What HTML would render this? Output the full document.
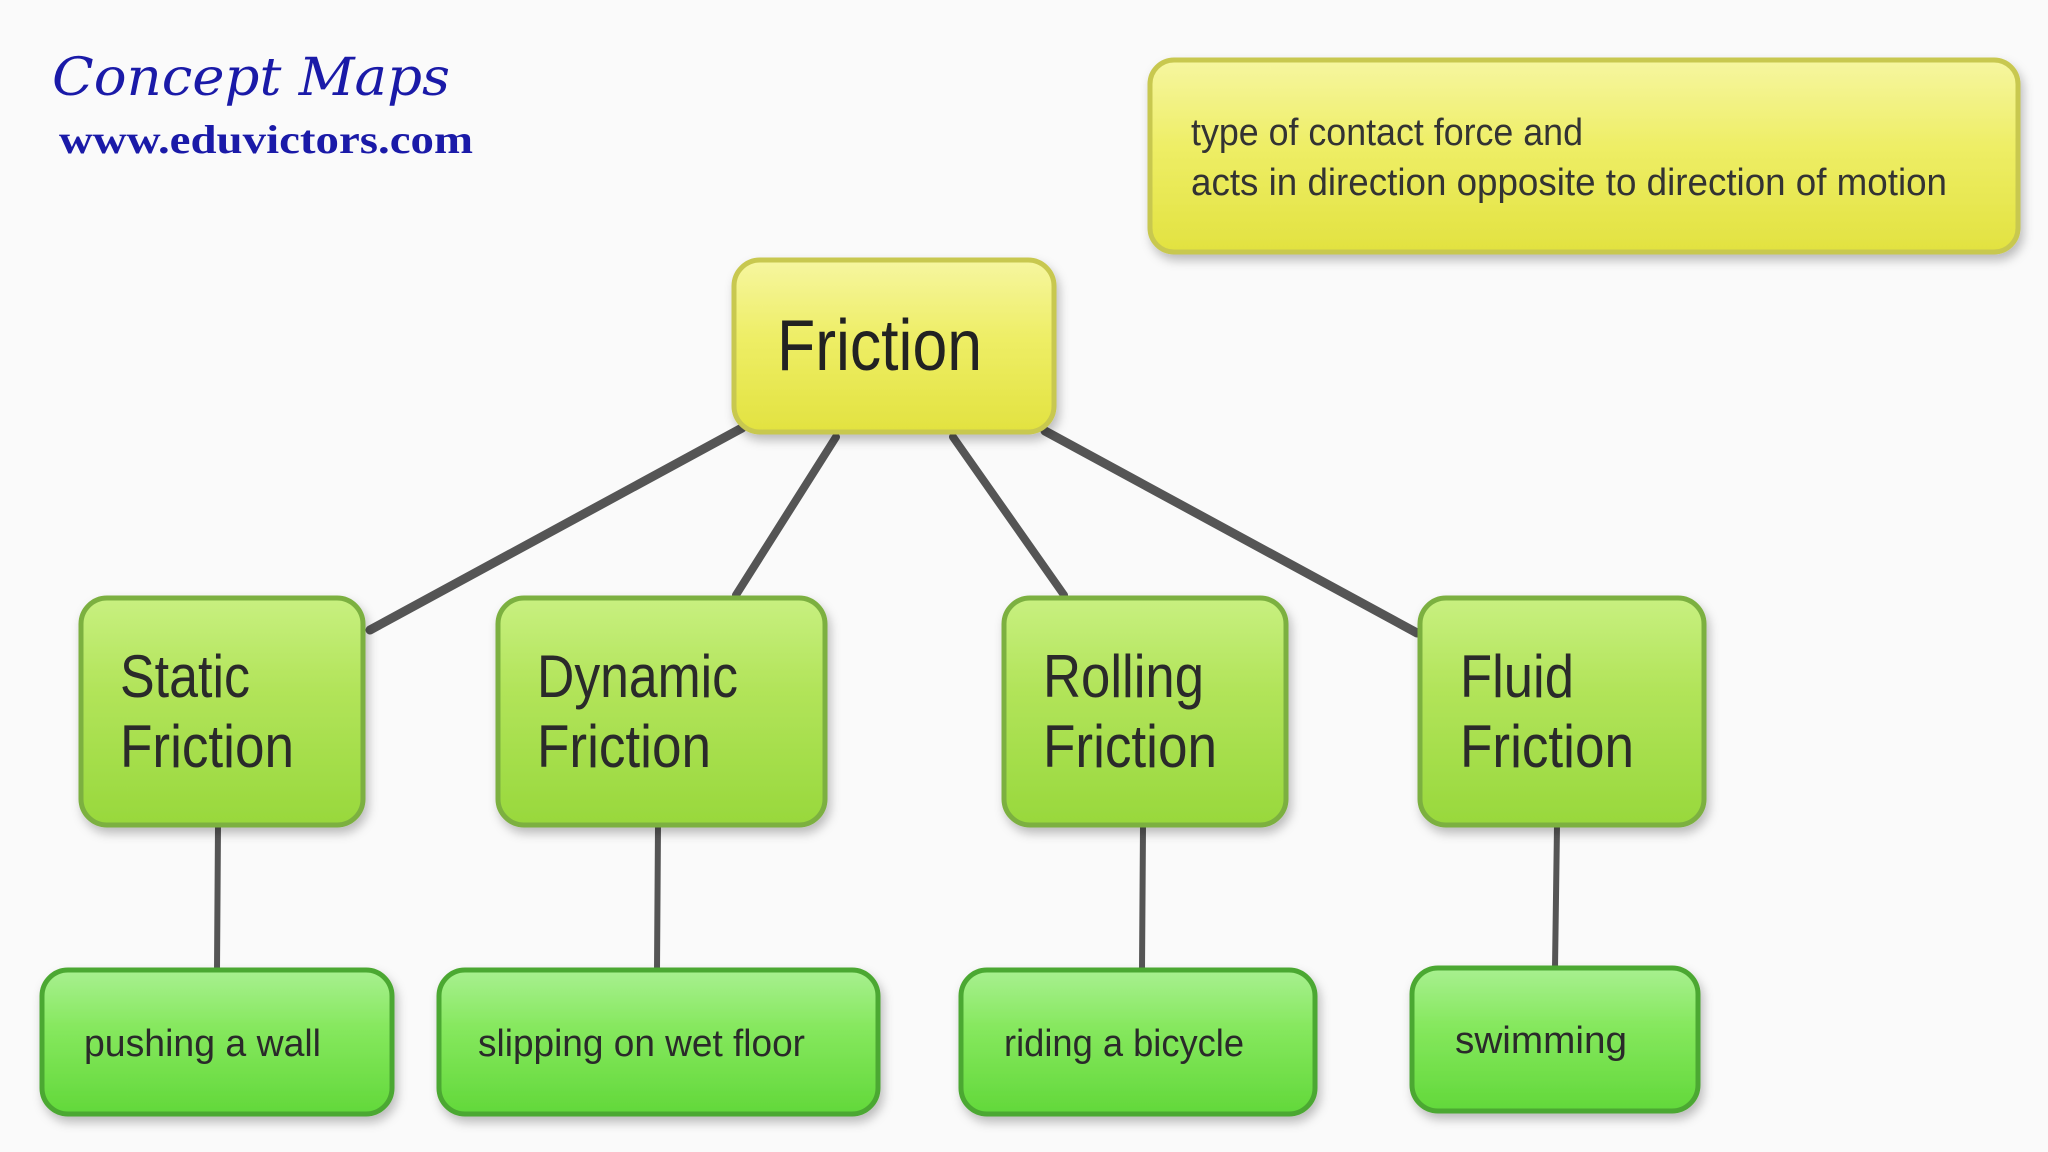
<!DOCTYPE html>
<html><head><meta charset="utf-8"><style>
html,body{margin:0;padding:0;background:#fafafa;}
svg{display:block}
</style></head><body>
<svg width="2048" height="1152" viewBox="0 0 2048 1152" xmlns="http://www.w3.org/2000/svg">
<defs>
<linearGradient id="yel" x1="0" y1="0" x2="0" y2="1">
<stop offset="0" stop-color="#f6f6a0"/><stop offset="0.45" stop-color="#eeee66"/><stop offset="1" stop-color="#e2e240"/></linearGradient>
<linearGradient id="lg" x1="0" y1="0" x2="0" y2="1">
<stop offset="0" stop-color="#c8f080"/><stop offset="0.4" stop-color="#b2e45a"/><stop offset="1" stop-color="#98d83c"/></linearGradient>
<linearGradient id="gg" x1="0" y1="0" x2="0" y2="1">
<stop offset="0" stop-color="#a8f090"/><stop offset="0.4" stop-color="#86e85e"/><stop offset="1" stop-color="#62d83a"/></linearGradient>
<filter id="sh" x="-10%" y="-10%" width="120%" height="130%"><feDropShadow dx="3" dy="6" stdDeviation="5" flood-color="#000" flood-opacity="0.25"/></filter>
</defs>
<rect width="2048" height="1152" fill="#fafafa"/>

<text x="52" y="95" font-family="'DejaVu Serif', serif" font-style="italic" font-size="52" fill="#1a1aa8" textLength="398" lengthAdjust="spacingAndGlyphs">Concept Maps</text>
<text x="59" y="153" font-family="'Liberation Serif', serif" font-weight="bold" font-size="40" fill="#1a1aa8" textLength="414" lengthAdjust="spacingAndGlyphs">www.eduvictors.com</text>

<g stroke="#555" stroke-linecap="round">
<line x1="742" y1="428" x2="370" y2="630" stroke-width="9"/>
<line x1="836" y1="437" x2="736" y2="595" stroke-width="8"/>
<line x1="953" y1="437" x2="1064" y2="595" stroke-width="8"/>
<line x1="1045" y1="431" x2="1417" y2="633" stroke-width="9"/>
<line x1="218" y1="826" x2="217" y2="970" stroke-width="6"/>
<line x1="658" y1="826" x2="657" y2="970" stroke-width="6"/>
<line x1="1143" y1="826" x2="1142" y2="970" stroke-width="6"/>
<line x1="1557" y1="826" x2="1555" y2="968" stroke-width="6"/>
</g>

<rect x="1150" y="60" width="868" height="192" rx="24" fill="url(#yel)" stroke="#c8c850" stroke-width="5" filter="url(#sh)"/>
<g font-family="'Liberation Sans', sans-serif" font-size="38" fill="#333">
<text x="1191" y="145" textLength="392" lengthAdjust="spacingAndGlyphs">type of contact force and</text>
<text x="1191" y="195" textLength="756" lengthAdjust="spacingAndGlyphs">acts in direction opposite to direction of motion</text>
</g>

<rect x="734" y="260" width="320" height="172" rx="26" fill="url(#yel)" stroke="#c8c850" stroke-width="5" filter="url(#sh)"/>
<text x="777" y="370" font-family="'Liberation Sans', sans-serif" font-size="72" fill="#222" textLength="205" lengthAdjust="spacingAndGlyphs">Friction</text>

<g stroke="#7cb040" stroke-width="5" fill="url(#lg)" filter="url(#sh)">
<rect x="81" y="598" width="282" height="227" rx="26"/>
<rect x="498" y="598" width="327" height="227" rx="26"/>
<rect x="1004" y="598" width="282" height="227" rx="26"/>
<rect x="1420" y="598" width="284" height="227" rx="26"/>
</g>
<g font-family="'Liberation Sans', sans-serif" font-size="60" fill="#2a2a2a" lengthAdjust="spacingAndGlyphs">
<text x="120" y="697" textLength="130" lengthAdjust="spacingAndGlyphs">Static</text><text x="120" y="767" textLength="174" lengthAdjust="spacingAndGlyphs">Friction</text>
<text x="537" y="697" textLength="201" lengthAdjust="spacingAndGlyphs">Dynamic</text><text x="537" y="767" textLength="174" lengthAdjust="spacingAndGlyphs">Friction</text>
<text x="1043" y="697" textLength="161" lengthAdjust="spacingAndGlyphs">Rolling</text><text x="1043" y="767" textLength="174" lengthAdjust="spacingAndGlyphs">Friction</text>
<text x="1460" y="697" textLength="114" lengthAdjust="spacingAndGlyphs">Fluid</text><text x="1460" y="767" textLength="174" lengthAdjust="spacingAndGlyphs">Friction</text>
</g>

<g stroke="#4ca830" stroke-width="5" fill="url(#gg)" filter="url(#sh)">
<rect x="42" y="970" width="350" height="144" rx="26"/>
<rect x="439" y="970" width="439" height="144" rx="26"/>
<rect x="961" y="970" width="354" height="144" rx="26"/>
<rect x="1412" y="968" width="286" height="143" rx="26"/>
</g>
<g font-family="'Liberation Sans', sans-serif" font-size="38" fill="#2a2a2a">
<text x="84" y="1056" textLength="237" lengthAdjust="spacingAndGlyphs">pushing a wall</text>
<text x="478" y="1056" textLength="327" lengthAdjust="spacingAndGlyphs">slipping on wet floor</text>
<text x="1004" y="1056" textLength="240" lengthAdjust="spacingAndGlyphs">riding a bicycle</text>
<text x="1455" y="1053" textLength="172" lengthAdjust="spacingAndGlyphs">swimming</text>
</g>
</svg>
</body></html>
